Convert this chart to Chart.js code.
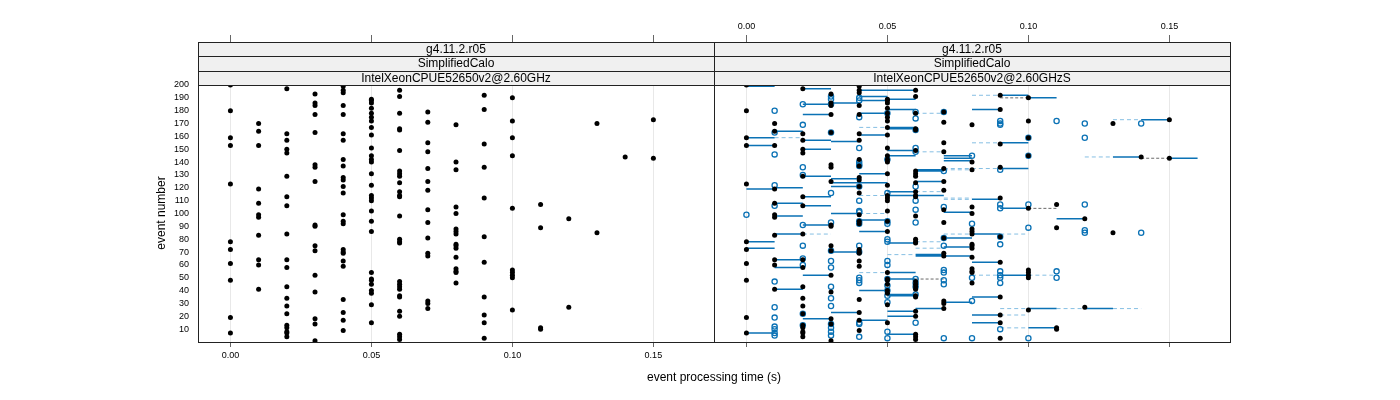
<!DOCTYPE html>
<html>
<head>
<meta charset="utf-8">
<script src="https://cdn.jsdelivr.net/npm/chart.js@4.4.0/dist/chart.umd.min.js"></script>
<style>
  html, body { margin: 0; padding: 0; background: #fff; }
  #wrap { position: relative; width: 1400px; height: 400px; }
  #wrap canvas { position: absolute; left: 0; top: 0; }
</style>
</head>
<body>
<div id="wrap">
  <canvas id="izq" width="1400" height="400"></canvas>
  <canvas id="der" width="1400" height="400"></canvas>
</div>
<script>
// ==============================
// DATOS
// ==============================
const timeBins = [0.00, 0.01, 0.02, 0.03, 0.04, 0.05, 0.06, 0.07, 0.08, 0.09, 0.10, 0.11, 0.12, 0.13, 0.14, 0.15];

// event numbers per time bin (reference run, black dots)
const refEvents = [
  [200, 180, 159, 153, 123, 78, 72, 61, 48, 19, 7],
  [170, 164, 153, 119, 108, 99, 97, 83, 64, 60, 41],
  [197, 162, 157, 150, 147, 129, 113, 106, 84, 64, 58, 43, 34, 28, 22, 13, 11, 8, 7, 4],
  [193, 186, 184, 177, 163, 138, 136, 125, 91, 90, 75, 71, 52, 39, 18, 14, 1],
  [199, 196, 194, 184, 177, 162, 157, 142, 137, 128, 126, 121, 116, 99, 94, 92, 72, 70, 69, 63, 59, 33, 23, 17, 9],
  [189, 188, 186, 182, 178, 175, 172, 167, 161, 151, 145, 142, 140, 131, 122, 114, 112, 110, 102, 94, 86, 54, 49, 48, 45, 40, 38, 29, 15],
  [196, 191, 178, 166, 165, 149, 133, 131, 129, 124, 117, 114, 113, 98, 80, 78, 77, 47, 45, 43, 41, 36, 35, 24, 20, 6, 4, 2],
  [179, 171, 155, 148, 135, 125, 118, 103, 93, 81, 69, 67, 32, 30, 26],
  [169, 140, 134, 105, 100, 88, 86, 84, 76, 75, 73, 66, 57, 55, 54, 46],
  [192, 181, 154, 136, 112, 82, 62, 35, 21, 15, 3],
  [190, 172, 159, 145, 104, 56, 54, 52, 50, 25],
  [107, 89, 11, 10],
  [96, 27],
  [170, 85],
  [144],
  [173, 143]
];

// second run (blue open circles)
const testBins = [0.00, 0.01, 0.02, 0.03, 0.04, 0.05, 0.06, 0.07, 0.08, 0.09, 0.10, 0.11, 0.12, 0.14];
const testEvents = [
  [99],
  [180, 163, 146, 122, 106, 47, 27, 19, 12, 10, 7, 5],
  [185, 169, 136, 130, 91, 75, 65, 60, 22, 13],
  [191, 189, 185, 163, 116, 93, 71, 63, 58, 43, 34, 28, 14, 11, 8, 5],
  [190, 188, 175, 151, 140, 138, 137, 121, 110, 102, 101, 94, 92, 75, 70, 50, 48, 46, 15, 14, 4],
  [178, 142, 116, 94, 92, 80, 78, 63, 60, 49, 44, 40, 36, 31, 8, 3],
  [179, 174, 165, 151, 148, 121, 110, 103, 93, 49, 46, 43, 37, 15],
  [179, 133, 105, 81, 75, 56, 54, 48, 45, 3],
  [145, 92, 50, 32, 3],
  [172, 170, 169, 134, 107, 104, 82, 76, 55, 52, 50, 46, 10],
  [159, 145, 107, 89, 3],
  [172, 55, 50],
  [170, 159, 107, 87, 85],
  [170, 85]
];

// horizontal segments: [event, from, to]
const solidSegs = [
  [199, 0.00, 0.01], [197, 0.02, 0.03], [196, 0.04, 0.06], [191, 0.04, 0.05], [189, 0.05, 0.06],
  [188, 0.04, 0.05], [185, 0.02, 0.03], [186, 0.03, 0.04], [181, 0.05, 0.06], [178, 0.04, 0.05],
  [177, 0.02, 0.03], [167, 0.05, 0.06], [166, 0.05, 0.06], [164, 0.01, 0.02], [161, 0.04, 0.05],
  [159, 0.00, 0.01], [157, 0.02, 0.03], [156, 0.03, 0.04], [153, 0.00, 0.01], [150, 0.02, 0.03],
  [149, 0.05, 0.06], [145, 0.05, 0.06], [141, 0.07, 0.08], [134, 0.06, 0.07], [133, 0.06, 0.07],
  [131, 0.04, 0.05], [129, 0.02, 0.03], [127, 0.03, 0.04], [125, 0.06, 0.07], [124, 0.03, 0.05],
  [121, 0.03, 0.04], [119, 0.00, 0.01], [120, 0.01, 0.02], [117, 0.05, 0.06], [114, 0.05, 0.07],
  [113, 0.02, 0.03], [108, 0.01, 0.02], [106, 0.02, 0.03], [100, 0.03, 0.04],
  [192, 0.09, 0.10], [190, 0.10, 0.11], [181, 0.08, 0.09], [173, 0.14, 0.15], [155, 0.09, 0.10],
  [145, 0.07, 0.08], [143, 0.07, 0.08], [135, 0.09, 0.10], [144, 0.13, 0.14], [143, 0.15, 0.16],
  [111, 0.08, 0.09], [104, 0.09, 0.10], [101, 0.07, 0.08],
  [98, 0.01, 0.02], [95, 0.04, 0.05], [91, 0.02, 0.03], [86, 0.04, 0.05], [84, 0.01, 0.02],
  [78, 0.00, 0.01], [77, 0.05, 0.06], [73, 0.00, 0.01], [70, 0.03, 0.04], [68, 0.06, 0.07],
  [67, 0.06, 0.07], [64, 0.01, 0.02], [58, 0.01, 0.02], [54, 0.05, 0.06], [52, 0.02, 0.03],
  [49, 0.05, 0.06], [41, 0.01, 0.02], [40, 0.04, 0.05], [37, 0.05, 0.06], [36, 0.05, 0.06],
  [31, 0.07, 0.08], [26, 0.06, 0.07], [24, 0.05, 0.06], [23, 0.03, 0.04], [20, 0.05, 0.06],
  [18, 0.02, 0.03], [17, 0.04, 0.05], [7, 0.00, 0.01], [6, 0.05, 0.06],
  [96, 0.11, 0.12], [84, 0.08, 0.09], [81, 0.07, 0.08], [74, 0.07, 0.08], [67, 0.07, 0.08],
  [62, 0.08, 0.09], [52, 0.09, 0.10], [35, 0.08, 0.09], [26, 0.10, 0.11], [26, 0.12, 0.13],
  [21, 0.08, 0.09], [15, 0.08, 0.09], [11, 0.10, 0.11]
];
const lightDashSegs = [
  [178, 0.06, 0.07], [167, 0.04, 0.05], [159, 0.01, 0.02], [148, 0.06, 0.07], [134, 0.07, 0.08],
  [117, 0.06, 0.07], [114, 0.04, 0.05], [112, 0.07, 0.08], [192, 0.08, 0.09], [173, 0.13, 0.14],
  [155, 0.08, 0.09], [135, 0.07, 0.09], [144, 0.12, 0.13], [111, 0.07, 0.08], [100, 0.04, 0.05],
  [84, 0.02, 0.03], [78, 0.06, 0.07], [73, 0.06, 0.07], [68, 0.05, 0.06], [54, 0.04, 0.05],
  [84, 0.07, 0.08], [84, 0.09, 0.10], [52, 0.08, 0.09], [52, 0.10, 0.11], [26, 0.09, 0.10],
  [26, 0.11, 0.12], [26, 0.13, 0.14], [21, 0.09, 0.10], [11, 0.09, 0.10]
];
const darkDashSegs = [
  [190, 0.09, 0.10], [143, 0.14, 0.15], [104, 0.10, 0.11], [49, 0.06, 0.07]
];

const xTicks = [0.00, 0.05, 0.10, 0.15];
const yTicks = [10, 20, 30, 40, 50, 60, 70, 80, 90, 100, 110, 120, 130, 140, 150, 160, 170, 180, 190, 200];
const stripIzq = ["g4.11.2.r05", "SimplifiedCalo", "IntelXeonCPUE52650v2@2.60GHz"];
const stripDer = ["g4.11.2.r05", "SimplifiedCalo", "IntelXeonCPUE52650v2@2.60GHzS"];

// ==============================
// HELPERS
// ==============================
const FONT = "'Liberation Sans', Arial, sans-serif";
const X_MIN = -0.0115, X_MAX = 0.1715;
const AZUL = "#0b72b5";

function puntos(bins, eventos) {
  const pts = [];
  bins.forEach((t, i) => eventos[i].forEach(e => pts.push({ x: t, y: e })));
  return pts;
}

function segmentos(segs) {
  const pts = [];
  segs.forEach(s => {
    pts.push({ x: s[1], y: s[0] }, { x: s[2], y: s[0] }, { x: null, y: null });
  });
  return pts;
}

function ejeX(conEtiquetas) {
  return {
    type: "linear", position: "bottom", min: X_MIN, max: X_MAX,
    afterBuildTicks: s => { s.ticks = xTicks.map(v => ({ value: v })); },
    afterFit: s => { s.height = 58; },
    ticks: {
      display: conEtiquetas, autoSkip: false, maxRotation: 0, padding: 3,
      color: "#000", font: { family: FONT, size: 9 },
      callback: v => Number(v).toFixed(2)
    },
    grid: { color: "#e8e8e8", tickColor: "#666", tickLength: 5 },
    border: { color: "#8a8a8a" }
  };
}

// strips, top ticks, border, titles
function panelPlugin(strips, etiquetasArriba, titulos) {
  return {
    id: "panel",
    afterDraw(chart) {
      const ctx = chart.ctx, a = chart.chartArea, xs = chart.scales.x;
      const filas = [42, 56, 71, 85];
      ctx.save();
      ctx.font = "12px " + FONT;
      ctx.textAlign = "center";
      ctx.textBaseline = "middle";
      strips.forEach((txt, i) => {
        ctx.fillStyle = "#f0f0f0";
        ctx.fillRect(a.left, filas[i], a.right - a.left, filas[i + 1] - filas[i]);
        ctx.fillStyle = "#000";
        ctx.fillText(txt, (a.left + a.right) / 2, (filas[i] + filas[i + 1]) / 2 + 0.5);
      });
      ctx.strokeStyle = "#222";
      ctx.lineWidth = 1;
      filas.forEach(y => {
        ctx.beginPath();
        ctx.moveTo(a.left, y + 0.5);
        ctx.lineTo(a.right, y + 0.5);
        ctx.stroke();
      });
      ctx.strokeRect(a.left + 0.5, filas[0] + 0.5, a.right - a.left, a.bottom - filas[0]);

      // top ticks
      ctx.strokeStyle = "#666";
      ctx.fillStyle = "#000";
      ctx.font = "9px " + FONT;
      xTicks.forEach(v => {
        const x = Math.round(xs.getPixelForValue(v)) + 0.5;
        ctx.beginPath();
        ctx.moveTo(x, 35);
        ctx.lineTo(x, 42);
        ctx.stroke();
        if (etiquetasArriba) ctx.fillText(v.toFixed(2), x, 27);
      });

      if (titulos) {
        ctx.font = "12px " + FONT;
        ctx.fillText("event processing time (s)", 714, 378);
        ctx.translate(162, 213);
        ctx.rotate(-Math.PI / 2);
        ctx.fillText("event number", 0, 0);
      }
      ctx.restore();
    }
  };
}

const negro = { type: "scatter", order: 1, clip: 0, pointRadius: 2.5, pointHoverRadius: 2.5,
  backgroundColor: "#000", borderColor: "#000", borderWidth: 0 };

// ==============================
// PANEL IZQUIERDO
// ==============================
new Chart(document.getElementById("izq"), {
  type: "scatter",
  data: {
    datasets: [Object.assign({ data: puntos(timeBins, refEvents) }, negro)]
  },
  options: {
    responsive: false, animation: false, events: [],
    layout: { padding: { left: 0, top: 85, right: 686, bottom: 0 } },
    plugins: { legend: { display: false }, tooltip: { enabled: false } },
    scales: {
      x: ejeX(true),
      y: {
        type: "linear", min: 0, max: 200,
        afterBuildTicks: s => { s.ticks = yTicks.map(v => ({ value: v })); },
        afterFit: s => { s.width = 198; },
        ticks: { autoSkip: false, padding: 9, color: "#000", font: { family: FONT, size: 9 } },
        grid: { drawOnChartArea: false, drawTicks: false },
        border: { display: false }
      }
    }
  },
  plugins: [panelPlugin(stripIzq, false, true)]
});

// ==============================
// PANEL DERECHO
// ==============================
new Chart(document.getElementById("der"), {
  type: "scatter",
  data: {
    datasets: [
      { type: "line", order: 4, clip: 0, data: segmentos(lightDashSegs), borderColor: "#86bfe3",
        borderWidth: 1, borderDash: [4, 3], pointRadius: 0, spanGaps: false },
      { type: "line", order: 4, clip: 0, data: segmentos(darkDashSegs), borderColor: "#444",
        borderWidth: 0.8, borderDash: [3, 2], pointRadius: 0, spanGaps: false },
      { type: "line", order: 3, clip: 0, data: segmentos(solidSegs), borderColor: AZUL,
        borderWidth: 1.5, pointRadius: 0, spanGaps: false },
      { type: "scatter", order: 2, clip: 0, data: puntos(testBins, testEvents), pointRadius: 2.6,
        pointHoverRadius: 2.6, backgroundColor: "rgba(0,0,0,0)", borderColor: AZUL, borderWidth: 1.3 },
      Object.assign({ data: puntos(timeBins, refEvents) }, negro)
    ]
  },
  options: {
    responsive: false, animation: false, events: [],
    layout: { padding: { left: 714, top: 85, right: 170, bottom: 0 } },
    plugins: { legend: { display: false }, tooltip: { enabled: false } },
    scales: {
      x: ejeX(false),
      y: { type: "linear", min: 0, max: 200, display: false }
    }
  },
  plugins: [panelPlugin(stripDer, true, false)]
});
</script>
</body>
</html>
